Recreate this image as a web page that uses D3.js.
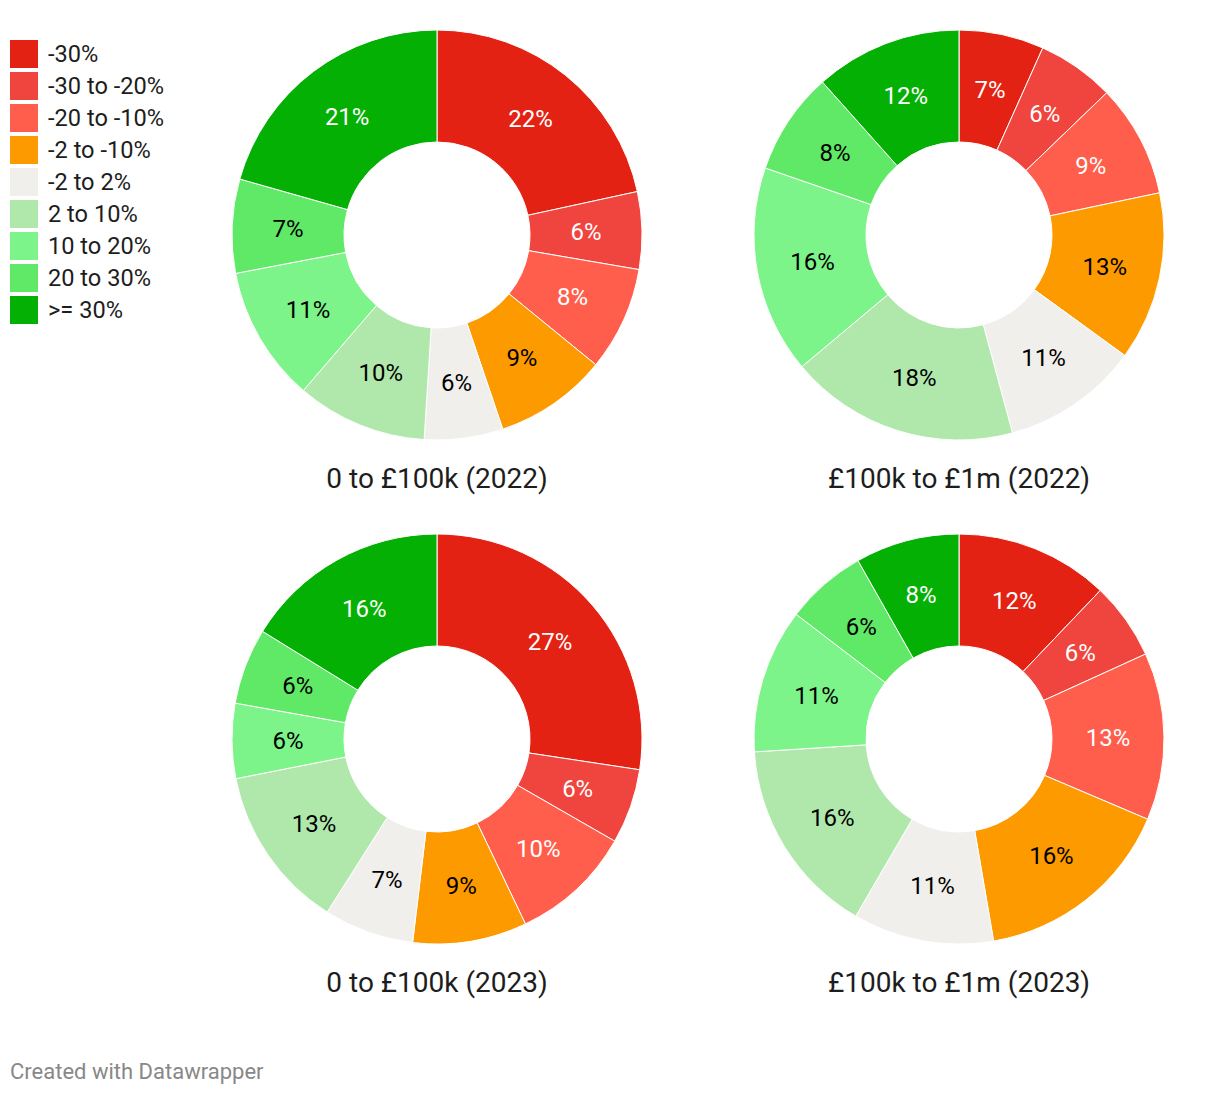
<!DOCTYPE html>
<html>
<head>
<meta charset="utf-8">
<script src="https://cdn.jsdelivr.net/npm/d3@7"></script>
<style>
  html, body { margin: 0; padding: 0; background: #fff; }
  svg { display: block; font-family: Roboto, sans-serif; }
</style>
</head>
<body>
<svg id="chart" width="1220" height="1094"></svg>
<script>
// Categories (clockwise from 12 o'clock)
const categories = ["-30%", "-30 to -20%", "-20 to -10%", "-2 to -10%", "-2 to 2%", "2 to 10%", "10 to 20%", "20 to 30%", ">= 30%"];
const colors = ["#e32214", "#f0443e", "#ff5e4d", "#fd9a00", "#f0efeb", "#b0e8ac", "#7cf48a", "#5fe966", "#05b005"];
const labelColors = ["#fff", "#fff", "#fff", "#000", "#000", "#000", "#000", "#000", "#fff"];

const chartTitles = ["0 to £100k (2022)", "£100k to £1m (2022)", "0 to £100k (2023)", "£100k to £1m (2023)"];
const low2022 = [21.6, 6.1, 8.2, 8.9, 6.2, 10.3, 10.7, 7.4, 20.6];
const high2022 = [6.7, 6.1, 8.9, 13.3, 10.8, 18.1, 16.4, 8.1, 11.6];
const low2023 = [27.4, 5.9, 9.6, 9.0, 7.1, 12.9, 5.9, 6.0, 16.2];
const high2023 = [12.1, 6.1, 13.2, 15.9, 11.1, 15.6, 11.4, 6.4, 8.2];
const seriesList = [low2022, high2022, low2023, high2023];

const svg = d3.select("#chart");

// Legend
const legend = svg.append("g").attr("transform", "translate(10,40)");
categories.forEach((c, i) => {
  const g = legend.append("g").attr("transform", `translate(0,${i * 32})`);
  g.append("rect").attr("width", 28).attr("height", 28).attr("fill", colors[i]);
  g.append("text").attr("x", 38).attr("y", 14).attr("dy", "0.35em")
    .attr("font-size", 23.6).attr("fill", "#1d1d1d").text(c);
});

const outerR = 205, innerR = 93;
const centers = [[437, 235], [959, 235], [437, 739], [959, 739]];
const pie = d3.pie().sort(null).value(d => d.v);
const arc = d3.arc().innerRadius(innerR).outerRadius(outerR);
const fmt = d3.format(".0f");

seriesList.forEach((vals, k) => {
  const data = vals.map((v, i) => ({ v, i }));
  const g = svg.append("g").attr("transform", `translate(${centers[k][0]},${centers[k][1]})`);
  const arcs = pie(data);
  g.selectAll("path").data(arcs).join("path")
    .attr("d", arc)
    .attr("fill", d => colors[d.data.i])
    .attr("stroke", "#fff").attr("stroke-width", 1);
  g.selectAll("text.lbl").data(arcs).join("text").attr("class", "lbl")
    .attr("transform", d => `translate(${arc.centroid(d)})`)
    .attr("text-anchor", "middle").attr("dy", "0.35em")
    .attr("font-size", 24).attr("fill", d => labelColors[d.data.i])
    .text(d => fmt(d.data.v) + "%");
  g.append("text").attr("x", 0).attr("y", outerR + 38).attr("dy", "0.35em")
    .attr("text-anchor", "middle").attr("font-size", 28).attr("fill", "#1d1d1d")
    .text(chartTitles[k]);
});

svg.append("text").attr("x", 10).attr("y", 1071).attr("dy", "0.35em")
  .attr("font-size", 22).attr("fill", "#888").text("Created with Datawrapper");
</script>
</body>
</html>
